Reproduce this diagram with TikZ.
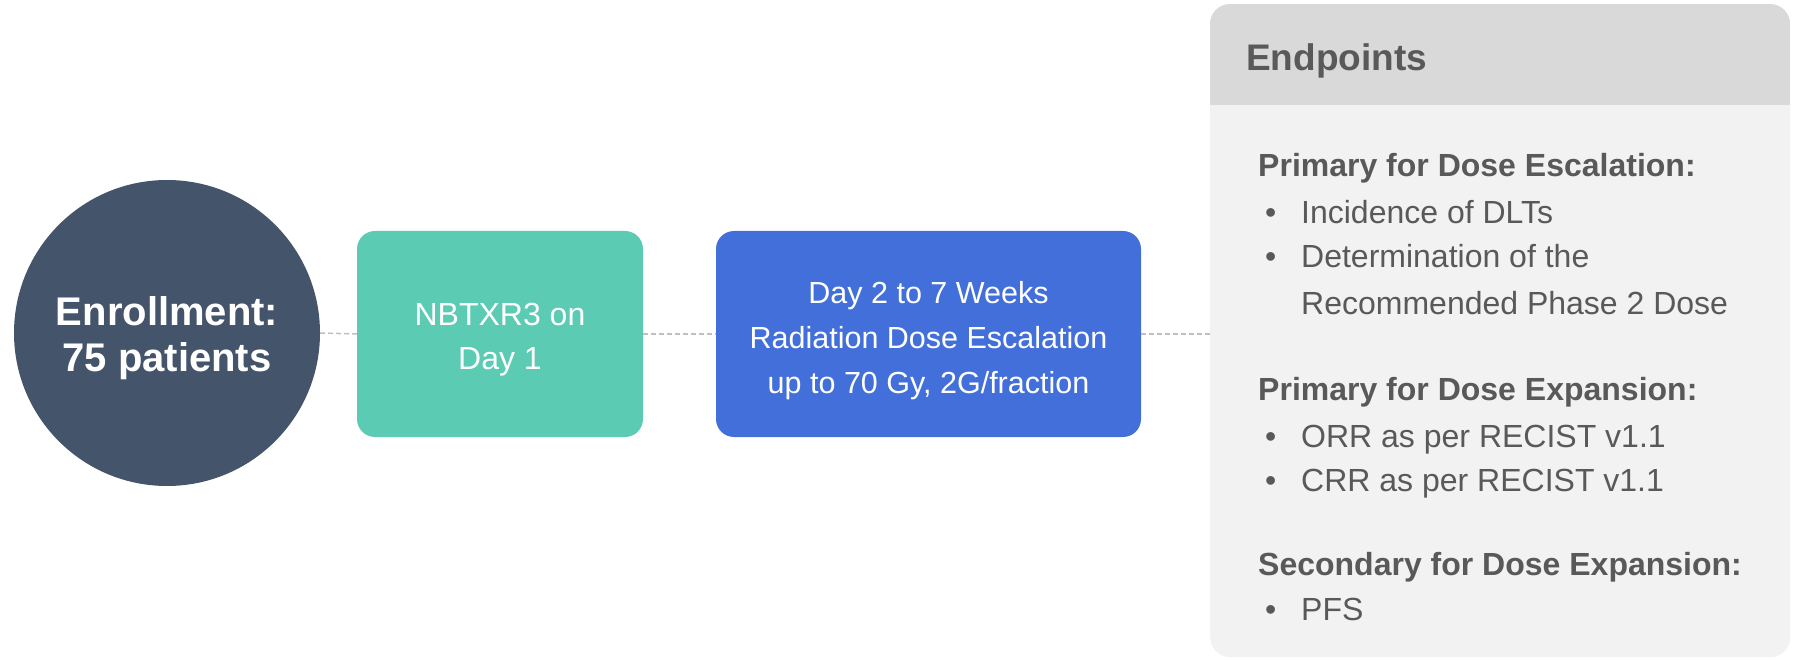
\documentclass[tikz,border=0pt]{standalone}
\usepackage{fontspec}
\setmainfont{Liberation Sans}
\definecolor{circ}{HTML}{44546A}
\definecolor{grn}{HTML}{5BCBB3}
\definecolor{blu}{HTML}{436FDB}
\definecolor{hdr}{HTML}{D9D9D9}
\definecolor{body}{HTML}{F2F2F2}
\definecolor{txt}{HTML}{595959}
\definecolor{dsh}{HTML}{BFBFBF}
\begin{document}
\begin{tikzpicture}[x=1pt,y=-1pt,
  link/.style={draw=dsh,line width=1.5pt,dash pattern=on 5pt off 3pt},
  stepbox/.style={rounded corners=18pt,minimum height=206pt,inner sep=0pt},
  boxtext/.style={text=white,align=center,inner sep=0pt},
  head/.style={anchor=base west,text=txt,font=\bfseries\fontsize{32}{38}\selectfont,inner sep=0pt},
  item/.style={anchor=base west,text=txt,font=\fontsize{32}{38}\selectfont,inner sep=0pt}]
\useasboundingbox (0,0) rectangle (1793,660);
% endpoints panel
\node[fill=body,rounded corners=20pt,minimum width=580pt,minimum height=653pt,anchor=north west,inner sep=0pt] (ep) at (1210,4) {};
\begin{scope}
  \clip[rounded corners=20pt] (1210,4) rectangle (1790,657);
  \fill[hdr] (1210,4) rectangle (1790,105);
\end{scope}
\node[anchor=base west,text=txt,font=\bfseries\fontsize{37}{44}\selectfont,inner sep=0pt] (eptitle) at (1246,71) {Endpoints};
% main nodes
\node[circle,fill=circ,minimum size=306pt,inner sep=0pt] (enr) at (167,333) {};
\node[boxtext,font=\bfseries\fontsize{40}{46}\selectfont,yshift=-5pt] (enrt) at (enr.center) {Enrollment:\\75 patients};
\node[stepbox,fill=grn,minimum width=286pt] (nbt) at (500,334) {};
\node[boxtext,font=\fontsize{32}{44}\selectfont,yshift=-6pt] (nbtt) at (nbt.center) {NBTXR3 on\\Day 1};
\node[stepbox,fill=blu,minimum width=425pt] (rad) at (928.5,334) {};
\node[boxtext,font=\fontsize{30.5}{45}\selectfont,yshift=-7pt] (radt) at (rad.center) {Day 2 to 7 Weeks\\Radiation Dose Escalation\\up to 70 Gy, 2G/fraction};
% connectors
\draw[link] (enr.east) -- (nbt.west);
\draw[link] (nbt.east) -- (rad.west);
\draw[link] (rad.east) -- (rad.east -| ep.west);
% endpoint texts
\node[head] (h1) at (1258,177) {Primary for Dose Escalation:};
\node[item] (i1) at (1265,224) {\makebox[36pt][l]{\textbullet}Incidence of DLTs};
\node[item] (i2) at (1265,268) {\makebox[36pt][l]{\textbullet}Determination of the};
\node[item] (i3) at (1301,314) {Recommended Phase 2 Dose};
\node[head] (h2) at (1258,400) {Primary for Dose Expansion:};
\node[item] (i4) at (1265,447) {\makebox[36pt][l]{\textbullet}ORR as per RECIST v1.1};
\node[item] (i5) at (1265,491) {\makebox[36pt][l]{\textbullet}CRR as per RECIST v1.1};
\node[head] (h3) at (1258,575) {Secondary for Dose Expansion:};
\node[item] (i6) at (1265,620) {\makebox[36pt][l]{\textbullet}PFS};
\end{tikzpicture}
\end{document}
